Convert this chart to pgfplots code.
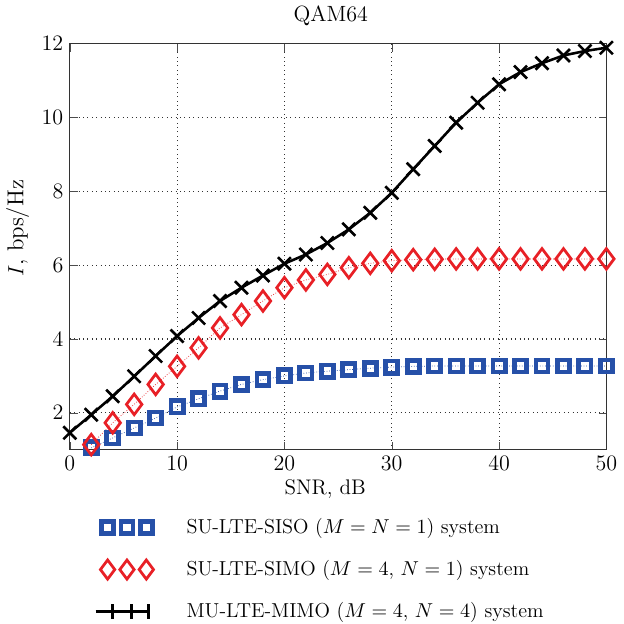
\documentclass[border=0pt]{standalone}
\usepackage{pgfplots}
\pgfplotsset{compat=1.18}
\definecolor{cblue}{RGB}{38,80,168}
\definecolor{cred}{RGB}{232,32,38}
\begin{document}
\begin{tikzpicture}
\begin{axis}[
  width=292pt, height=221pt, scale only axis,
  xmin=0, xmax=50, ymin=1, ymax=12,
  xtick={0,10,...,50}, ytick={2,4,...,12},
  grid=major,
  grid style={dotted, black!80, line width=0.6pt},
  axis line style={black!80, line width=0.6pt},
  tick style={black!70},
  font=\fontsize{11}{13}\selectfont,
  tick label style={font=\fontsize{11.5}{13}\selectfont},
  title={QAM64},
  title style={font=\fontsize{12}{14}\selectfont, xshift=-4pt, yshift=0pt},
  xlabel={SNR, dB},
  xlabel style={font=\fontsize{11.5}{13}\selectfont, xshift=-7pt, yshift=2pt},
  ylabel={$I$, bps/Hz},
  ylabel style={font=\fontsize{12.5}{14}\selectfont, at={(ticklabel cs:0.545)}},
  clip=false,
  legend style={at={(axis description cs:0.045,-0.16)}, anchor=north west,
    draw=none, fill=none, inner sep=0pt, row sep=9pt,
    font=\fontsize{11}{13}\selectfont,
    cells={anchor=west},
    /tikz/every odd column/.append style={column sep=16pt}},
  legend cell align=left,
]
\addplot[cblue, densely dotted, line width=0.4pt,
  mark=square, mark size=3.3pt,
  mark options={solid, line width=2.6pt, fill=white},
  legend image code/.code={\draw[cblue, line width=2.6pt, fill=white] plot[only marks, mark=square, mark size=3.3pt] coordinates {(0.23cm,0cm) (0.6cm,0cm) (0.97cm,0cm)};}
] coordinates {
(2,1.05) (4,1.32) (6,1.59) (8,1.86) (10,2.16) (12,2.38) (14,2.59) (16,2.77)
(18,2.90) (20,3.00) (22,3.08) (24,3.13) (26,3.17) (28,3.21) (30,3.24)
(32,3.26) (34,3.27) (36,3.27) (38,3.27) (40,3.27) (42,3.27) (44,3.27)
(46,3.27) (48,3.27) (50,3.27)};
\addlegendentry{SU-LTE-SISO ($M = N = 1$) system}
\addplot[cred, densely dotted, line width=0.4pt,
  mark=diamond, mark size=5.6pt,
  mark options={solid, line width=1.5pt, fill=white},
  legend image code/.code={\draw[cred, line width=1.5pt, fill=white] plot[only marks, mark=diamond, mark size=5.2pt] coordinates {(0.23cm,0cm) (0.6cm,0cm) (0.97cm,0cm)};}
] coordinates {
(2,1.14) (4,1.73) (6,2.23) (8,2.77) (10,3.26) (12,3.76) (14,4.30) (16,4.66)
(18,5.03) (20,5.39) (22,5.60) (24,5.75) (26,5.93) (28,6.05) (30,6.12)
(32,6.15) (34,6.16) (36,6.17) (38,6.17) (40,6.17) (42,6.17) (44,6.17)
(46,6.17) (48,6.17) (50,6.17)};
\addlegendentry{SU-LTE-SIMO ($M = 4$, $N = 1$) system}
\addplot[black, line width=1.4pt,
  mark=x, mark size=5pt,
  mark options={solid, line width=1.4pt},
  legend image code/.code={\draw[black, line width=1.4pt] (0cm,0cm) -- (1.05cm,0cm);
    \foreach \xx in {0.32,0.68,1.02} {\draw[black, line width=1.6pt] (\xx cm,-0.14cm) -- (\xx cm,0.14cm);}}
] coordinates {
(0,1.46) (2,1.95) (4,2.45) (6,2.99) (8,3.54) (10,4.08) (12,4.57) (14,5.03)
(16,5.39) (18,5.72) (20,6.04) (22,6.29) (24,6.60) (26,6.97) (28,7.42)
(30,7.96) (32,8.60) (34,9.23) (36,9.86) (38,10.40) (40,10.90) (42,11.23)
(44,11.47) (46,11.68) (48,11.80) (50,11.89)};
\addlegendentry{MU-LTE-MIMO ($M = 4$, $N = 4$) system}
\end{axis}
\end{tikzpicture}
\end{document}
